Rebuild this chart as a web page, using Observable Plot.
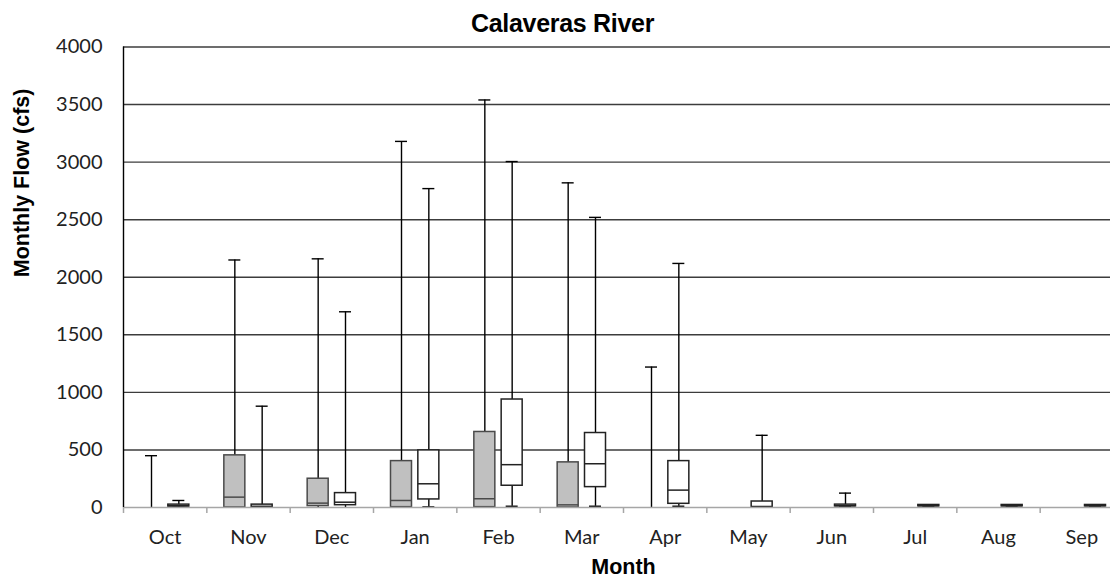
<!DOCTYPE html>
<html>
<head>
<meta charset="utf-8">
<script src="https://cdn.jsdelivr.net/npm/d3@7"></script>
<script src="https://cdn.jsdelivr.net/npm/@observablehq/plot@0.6"></script>
<style>
  html, body { margin: 0; padding: 0; background: #fff; overflow: hidden; }
  #wrap { position: relative; width: 1110px; height: 581px; }
  #title { position: absolute; left: 0; top: 9px; width: 1125px; text-align: center;
           font-family: "Liberation Sans", Arial, sans-serif; font-weight: bold; font-size: 25px;
           line-height: 28px; color: #000; letter-spacing: -0.3px; }
  #chart { position: absolute; left: 0; top: 0; }
</style>
</head>
<body>
<div id="wrap">
  <div id="chart"></div>
  <div id="title">Calaveras River</div>
</div>
<script>
// ---- data ----
const months = ["Oct","Nov","Dec","Jan","Feb","Mar","Apr","May","Jun","Jul","Aug","Sep"];
const yTicks = [0, 500, 1000, 1500, 2000, 2500, 3000, 3500, 4000];

// gray series (left box in each month)
const grayMin = [0, 0, 0, 0, 0, 0, 0, 0, 0, 0, 0, 0];
const grayQ1  = [0, 0, 12, 3, 3, 0, 0, 0, 0, 0, 0, 0];
const grayMed = [0, 90, 38, 61, 76, 23, 0, 0, 0, 0, 0, 0];
const grayQ3  = [0, 453, 250, 403, 656, 392, 0, 0, 0, 0, 0, 0];
const grayMax = [450, 2150, 2160, 3180, 3540, 2820, 1220, 0, 0, 0, 0, 0];

// white series (right box in each month)
const whiteMin = [3, 0, 0, 5, 11, 11, 11, 0, 8, 8, 8, 8];
const whiteQ1  = [8, 3, 20, 70, 189, 177, 32, 3, 10, 10, 10, 10];
const whiteMed = [15, 10, 46, 206, 372, 380, 151, 8, 15, 15, 15, 15];
const whiteQ3  = [25, 25, 125, 496, 938, 647, 403, 52, 25, 22, 22, 22];
const whiteMax = [61, 880, 1700, 2770, 3005, 2520, 2120, 627, 125, 22, 22, 22];

const yLabel = "Monthly Flow (cfs)";
const xLabel = "Month";

// ---- build table ----
const boxes = months.flatMap((m, i) => [
  {month: m, i, series: "gray", min: grayMin[i], q1: grayQ1[i], med: grayMed[i], q3: grayQ3[i], max: grayMax[i]},
  {month: m, i, series: "white", min: whiteMin[i], q1: whiteQ1[i], med: whiteMed[i], q3: whiteQ3[i], max: whiteMax[i]}
]);

const OFF = 0.164, HALF = 0.126, CAP = 0.072;
const cx = d => d.i + 0.5 + (d.series === "gray" ? -OFF : OFF);

const chart = Plot.plot({
  width: 1110,
  height: 581,
  marginLeft: 123,
  marginRight: -13,
  marginTop: 46.5,
  marginBottom: 74,
  x: {domain: [0, months.length], axis: null},
  y: {domain: [0, 4000], axis: null},
  style: {fontFamily: "Lato, 'Open Sans', sans-serif", fontSize: "20px", color: "#222", overflow: "visible"},
  marks: [
    Plot.ruleY(yTicks.filter(v => v > 0), {stroke: "#3c3c3c", strokeWidth: 1.4}),
    Plot.axisY(yTicks, {tickSize: 0, tickPadding: 21, label: null, fontSize: 20, tickFormat: d => String(d)}),
    Plot.axisX(d3.range(months.length + 1), {tickSize: 6, stroke: "#a6a6a6", strokeWidth: 1.5, tickFormat: () => "", label: null}),
    Plot.text(months, {x: (d, i) => i + 0.5, frameAnchor: "bottom", dy: 36, fontSize: 20, fill: "#222"}),
    Plot.text([yLabel], {frameAnchor: "left", rotate: -90, dx: -101, fontFamily: "'Liberation Sans', Arial, sans-serif", fontWeight: "bold", fontSize: 21.5, fill: "#000"}),
    Plot.text([xLabel], {frameAnchor: "bottom", dy: 66, fontFamily: "'Liberation Sans', Arial, sans-serif", fontWeight: "bold", fontSize: 21.5, fill: "#000"}),
    // whiskers
    Plot.ruleX(boxes.filter(d => d.max > d.min), {x: cx, y1: "min", y2: "max", stroke: "#000", strokeWidth: 1.4}),
    Plot.ruleY(boxes.filter(d => d.max > 0), {y: "max", x1: d => cx(d) - CAP, x2: d => cx(d) + CAP, stroke: "#000", strokeWidth: 1.4}),
    Plot.ruleY(boxes.filter(d => d.min > 0), {y: "min", x1: d => cx(d) - CAP, x2: d => cx(d) + CAP, stroke: "#000", strokeWidth: 1.4}),
    // boxes
    Plot.rectY(boxes.filter(d => d.q3 > d.q1), {
      x1: d => cx(d) - HALF, x2: d => cx(d) + HALF, y1: "q1", y2: "q3",
      fill: d => d.series === "gray" ? "#c0c0c0" : "#ffffff",
      stroke: d => d.series === "gray" ? "#4a4a4a" : "#222",
      strokeWidth: 1.5
    }),
    Plot.ruleY(boxes.filter(d => d.q3 > d.q1), {y: "med", x1: d => cx(d) - HALF, x2: d => cx(d) + HALF, stroke: d => d.series === "gray" ? "#4a4a4a" : "#222", strokeWidth: 1.5}),
    // axes lines
    Plot.ruleY([0], {stroke: "#a6a6a6", strokeWidth: 1.5}),
    Plot.ruleX([0], {stroke: "#000", strokeWidth: 1.4})
  ]
});
document.getElementById("chart").appendChild(chart);
</script>
</body>
</html>
